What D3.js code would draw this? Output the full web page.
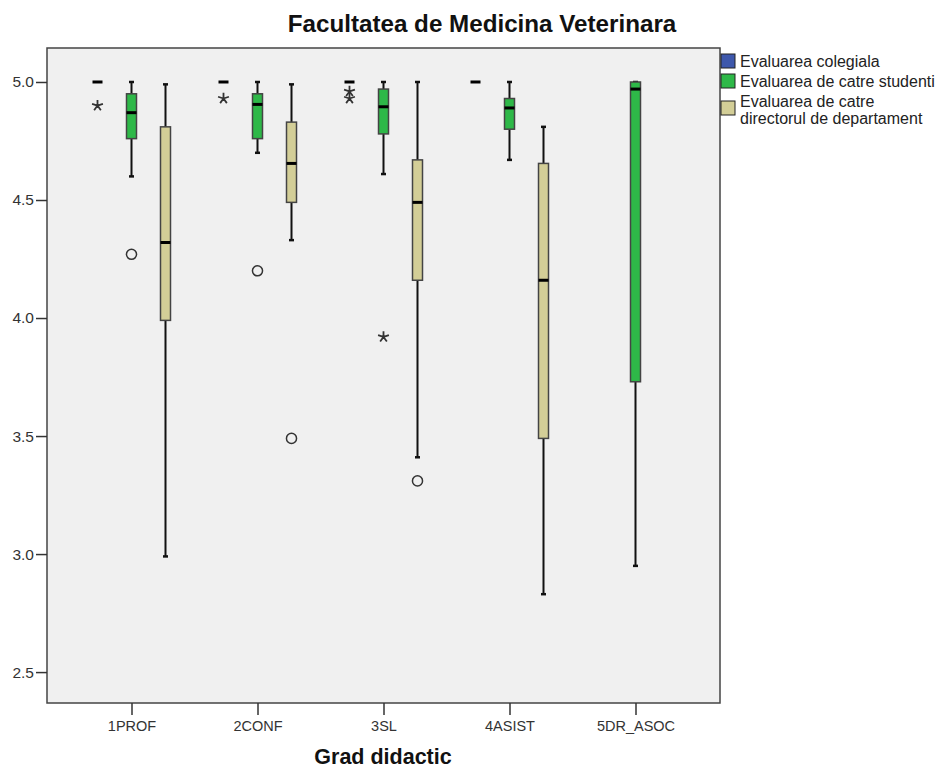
<!DOCTYPE html>
<html>
<head>
<meta charset="utf-8">
<script src="https://cdn.jsdelivr.net/npm/d3@7"></script>
<style>
  body { margin: 0; background: #fff; }
  text { font-family: "Liberation Sans", Arial, sans-serif; }
</style>
</head>
<body>
<div id="chart"></div>
<script>
// categories and series
const categories = ["1PROF", "2CONF", "3SL", "4ASIST", "5DR_ASOC"];
const series = ["Evaluarea colegiala", "Evaluarea de catre studenti", "Evaluarea de catre directorul de departament"];
const legendLines = [["Evaluarea colegiala"], ["Evaluarea de catre studenti"], ["Evaluarea de catre", "directorul de departament"]];
const colors = ["#3e58ac", "#2eb848", "#d3ce97"];

// box stats per category: [whisker low, q1, median, q3, whisker high], null = no data
const colegiala = [[5, 5, 5, 5, 5], [5, 5, 5, 5, 5], [5, 5, 5, 5, 5], [5, 5, 5, 5, 5], null];
const studenti = [
  [4.60, 4.76, 4.87, 4.95, 5.0],
  [4.70, 4.76, 4.905, 4.95, 5.0],
  [4.61, 4.78, 4.895, 4.97, 5.0],
  [4.67, 4.80, 4.89, 4.93, 5.0],
  [2.95, 3.73, 4.97, 5.0, 5.0]
];
const director = [
  [2.99, 3.99, 4.32, 4.81, 4.99],
  [4.33, 4.49, 4.655, 4.83, 4.99],
  [3.41, 4.16, 4.49, 4.67, 5.0],
  [2.83, 3.49, 4.16, 4.655, 4.81],
  null
];
const boxStats = [colegiala, studenti, director];

// outliers: [series index, category, value, kind]
const outliers = [
  [0, "1PROF", 4.90, "star"],
  [0, "2CONF", 4.93, "star"],
  [0, "3SL", 4.96, "star"],
  [0, "3SL", 4.93, "star"],
  [1, "1PROF", 4.27, "circle"],
  [1, "2CONF", 4.20, "circle"],
  [1, "3SL", 3.92, "star"],
  [2, "2CONF", 3.49, "circle"],
  [2, "3SL", 3.31, "circle"]
];

const yTicks = [2.5, 3.0, 3.5, 4.0, 4.5, 5.0];

const width = 946, height = 769;
const plot = {left: 47, top: 48, right: 720, bottom: 703};
const boxWidth = 10;

const svg = d3.select("#chart").append("svg")
    .attr("width", width)
    .attr("height", height);

const y = d3.scaleLinear().domain([2.369, 5.144]).range([plot.bottom, plot.top]);
const x = d3.scalePoint().domain(categories).range([131.5, 635.5]);
const offset = d3.scalePoint().domain(d3.range(series.length)).range([-34, 34]);

// plot background
svg.append("rect")
    .attr("x", plot.left)
    .attr("y", plot.top)
    .attr("width", plot.right - plot.left)
    .attr("height", plot.bottom - plot.top)
    .attr("fill", "#f0f0f0")
    .attr("stroke", "#444")
    .attr("stroke-width", 1.5);

// y axis
svg.append("g")
    .attr("transform", `translate(${plot.left},0)`)
    .call(d3.axisLeft(y).tickValues(yTicks).tickFormat(d3.format(".1f")).tickSize(11).tickPadding(2))
    .call(g => g.select(".domain").remove())
    .call(g => g.selectAll(".tick line").attr("stroke", "#333").attr("stroke-width", 1.5))
    .call(g => g.selectAll(".tick text")
        .attr("fill", "#333")
        .attr("font-size", 15.5)
        .attr("font-family", "'Liberation Sans', Arial, sans-serif"));

// x axis
svg.append("g")
    .attr("transform", `translate(0,${plot.bottom})`)
    .call(d3.axisBottom(x).tickSize(12).tickPadding(6))
    .call(g => g.select(".domain").remove())
    .call(g => g.selectAll(".tick line").attr("stroke", "#333").attr("stroke-width", 1.5))
    .call(g => g.selectAll(".tick text")
        .attr("fill", "#333")
        .attr("font-size", 14.5)
        .attr("font-family", "'Liberation Sans', Arial, sans-serif"));

// boxes
const boxes = [];
boxStats.forEach((arr, s) => arr.forEach((st, c) => {
  if (st) boxes.push({s, cat: categories[c], st});
}));

const bg = svg.append("g")
    .selectAll("g")
    .data(boxes)
    .join("g")
    .attr("transform", d => `translate(${x(d.cat) + offset(d.s)},0)`);

// whiskers and boxes (collapsed boxes only get the median dash)
bg.filter(d => d.st[0] !== d.st[4]).each(function (d) {
  const g = d3.select(this);
  const [lo, q1, med, q3, hi] = d.st;
  g.append("line").attr("x1", 0).attr("x2", 0).attr("y1", y(hi)).attr("y2", y(q3))
      .attr("stroke", "#111").attr("stroke-width", 2);
  g.append("line").attr("x1", 0).attr("x2", 0).attr("y1", y(q1)).attr("y2", y(lo))
      .attr("stroke", "#111").attr("stroke-width", 2);
  [lo, hi].forEach(v => g.append("line")
      .attr("x1", -2.5).attr("x2", 2.5).attr("y1", y(v)).attr("y2", y(v))
      .attr("stroke", "#111").attr("stroke-width", 2.5));
  g.append("rect")
      .attr("x", -boxWidth / 2)
      .attr("width", boxWidth)
      .attr("y", y(q3))
      .attr("height", Math.max(0, y(q1) - y(q3)))
      .attr("fill", colors[d.s])
      .attr("stroke", "#444")
      .attr("stroke-width", 1.5);
});

// medians
bg.append("line")
    .attr("x1", -boxWidth / 2)
    .attr("x2", boxWidth / 2)
    .attr("y1", d => y(d.st[2]))
    .attr("y2", d => y(d.st[2]))
    .attr("stroke", "#000")
    .attr("stroke-width", 3);

// outliers
const asterisk5 = {
  draw(ctx, size) {
    const r = Math.sqrt(size) / 2;
    for (let k = 0; k < 5; k++) {
      const a = -Math.PI / 2 + k * 2 * Math.PI / 5;
      ctx.moveTo(0, 0);
      ctx.lineTo(r * Math.cos(a), r * Math.sin(a));
    }
  }
};

svg.append("g")
    .selectAll("path")
    .data(outliers)
    .join("path")
    .attr("transform", d => `translate(${x(d[1]) + offset(d[0])},${y(d[2])})`)
    .attr("d", d => d[3] === "circle"
        ? d3.symbol(d3.symbolCircle, 80)()
        : d3.symbol(asterisk5, 130)())
    .attr("fill", "none")
    .attr("stroke", "#333")
    .attr("stroke-width", d => d[3] === "circle" ? 1.5 : 1.8);

// legend
const legendY = [61, 81, 108];
const lg = svg.append("g")
    .selectAll("g")
    .data(series)
    .join("g")
    .attr("transform", (d, i) => `translate(721,${legendY[i]})`);

lg.append("rect")
    .attr("x", 0).attr("y", -7)
    .attr("width", 14).attr("height", 14)
    .attr("fill", (d, i) => colors[i])
    .attr("stroke", "#222")
    .attr("stroke-width", 1);

lg.append("text")
    .attr("x", 19)
    .attr("font-size", 16)
    .attr("fill", "#222")
    .selectAll("tspan")
    .data((d, i) => legendLines[i].map((t, j, a) => ({t, j, n: a.length})))
    .join("tspan")
    .attr("x", 19)
    .attr("y", d => d.n === 1 ? 6 : (d.j === 0 ? -1 : 16))
    .text(d => d.t);

// titles
svg.append("text")
    .attr("x", 482)
    .attr("y", 32)
    .attr("text-anchor", "middle")
    .attr("font-size", 24.2)
    .attr("font-weight", "bold")
    .attr("fill", "#111")
    .text("Facultatea de Medicina Veterinara");

svg.append("text")
    .attr("x", 383)
    .attr("y", 764)
    .attr("text-anchor", "middle")
    .attr("font-size", 21.5)
    .attr("font-weight", "bold")
    .attr("fill", "#111")
    .text("Grad didactic");
</script>
</body>
</html>
